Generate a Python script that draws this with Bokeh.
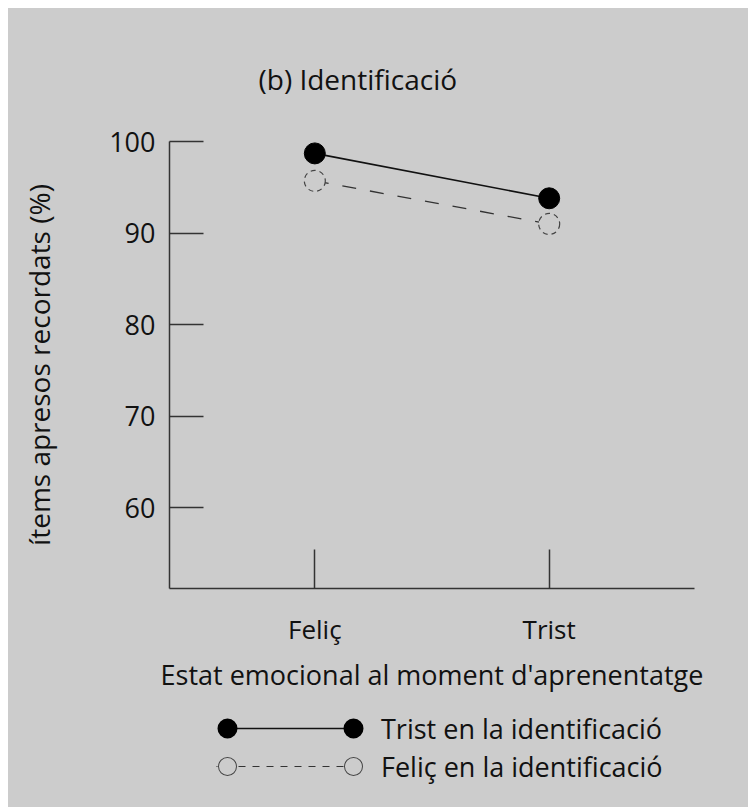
from bokeh.plotting import figure
from bokeh.layouts import column
from bokeh.models import (FactorRange, Range1d, FixedTicker, Legend, LegendItem, ColumnDataSource)
from bokeh.embed import file_html
from bokeh.resources import INLINE

categories = ["Feliç", "Trist"]
trist_ident = [98.7, 93.8]
felic_ident = [95.7, 91.0]
series_names = ["Trist en la identificació", "Feliç en la identificació"]
y_ticks = [60, 70, 80, 90, 100]

FONT = "Open Sans"
TXT = "#111111"
BG = "#cccccc"

p = figure(x_range=FactorRange(factors=categories, range_padding=0.12, range_padding_units="absolute"),
           y_range=Range1d(51.2, 100),
           width=740, height=692, frame_width=525, frame_height=447,
           min_border_left=161, min_border_right=54, min_border_top=133, min_border_bottom=112,
           output_backend="svg", toolbar_location=None)
p.background_fill_color = BG
p.border_fill_color = BG
p.outline_line_color = None
p.xgrid.visible = False
p.ygrid.visible = False

p.title.text = "(b) Identificació"
p.title.text_font = FONT
p.title.text_font_size = "28px"
p.title.text_font_style = "normal"
p.title.text_color = TXT
p.title.align = "left"
p.title.offset = 89
p.title.standoff = 87

src1 = ColumnDataSource(dict(x=categories, y=trist_ident))
src2 = ColumnDataSource(dict(x=categories, y=felic_ident))

# plotted marks
l2 = p.line("x", "y", source=src2, line_color="#333333", line_width=1.3, line_dash="14 14")
s2 = p.scatter("x", "y", source=src2, size=21, fill_color=BG, line_color="#444444",
               line_width=1.2, line_dash="5 4")
l1 = p.line("x", "y", source=src1, line_color="#111111", line_width=1.6)
s1 = p.scatter("x", "y", source=src1, size=21, fill_color="#000000", line_color="#000000")

# axes
for ax in (p.xaxis[0], p.yaxis[0]):
    ax.axis_line_color = "#333333"
    ax.axis_line_width = 1.5
    ax.major_tick_line_color = "#333333"
    ax.major_tick_line_width = 1.5
    ax.major_tick_out = 0
    ax.minor_tick_line_color = None
    ax.major_label_text_font = FONT
    ax.major_label_text_color = TXT
    ax.axis_label_text_font = FONT
    ax.axis_label_text_font_style = "normal"
    ax.axis_label_text_color = TXT

p.yaxis.ticker = FixedTicker(ticks=y_ticks)
p.yaxis.major_tick_in = 34
p.yaxis.major_label_text_font_size = "27px"
p.yaxis.major_label_standoff = 14
p.yaxis.axis_label = "ítems apresos recordats (%)"
p.yaxis.axis_label_text_font_size = "28px"
p.yaxis.axis_label_standoff = 48

p.xaxis.major_tick_in = 39
p.xaxis.major_label_text_font_size = "26px"
p.xaxis.major_label_standoff = 22
p.xaxis.axis_label = "Estat emocional al moment d'aprenentatge"
p.xaxis.axis_label_text_font_size = "27px"
p.xaxis.axis_label_standoff = 6

# key strip: a second figure whose glyphs lie outside its view, used only for the key
k = figure(x_range=FactorRange(factors=categories), y_range=Range1d(0, 1),
           width=740, height=107, min_border=0,
           x_axis_location=None, y_axis_location=None,
           output_backend="svg", toolbar_location=None)
k.background_fill_color = None
k.border_fill_color = BG
k.outline_line_color = None
k.xgrid.visible = False
k.ygrid.visible = False

k_line1 = k.line("x", "y", source=src1, line_color="#111111", line_width=1.6,
                 line_dash="126 22", line_dash_offset=137)
k_dots1 = k.line("x", "y", source=src1, line_color="#000000", line_width=20,
                 line_cap="round", line_dash="0 126", line_dash_offset=115)
k_dash2 = k.line("x", "y", source=src2, line_color="#333333", line_width=1.2,
                 line_dash="7 7", line_dash_offset=6)
k_ring2a = k.line("x", "y", source=src2, line_color="#444444", line_width=19,
                  line_cap="round", line_dash="0 126", line_dash_offset=115)
k_ring2b = k.line("x", "y", source=src2, line_color=BG, line_width=17,
                  line_cap="round", line_dash="0 126", line_dash_offset=115)

legend = Legend(items=[LegendItem(label=series_names[0], renderers=[k_line1, k_dots1]),
                       LegendItem(label=series_names[1], renderers=[k_dash2, k_ring2a, k_ring2b])],
                location=(47, 22), orientation="vertical",
                glyph_width=148, glyph_height=38, label_height=38, spacing=0, padding=0, margin=0,
                label_standoff=17,
                label_text_font=FONT, label_text_font_size="27px", label_text_color=TXT,
                background_fill_alpha=0, border_line_alpha=0)
k.add_layout(legend)

layout = column(p, k, margin=(8, 0, 0, 8), spacing=0)
layout.styles = {"background-color": BG}
open("out.html", "w").write(file_html(layout, INLINE))
